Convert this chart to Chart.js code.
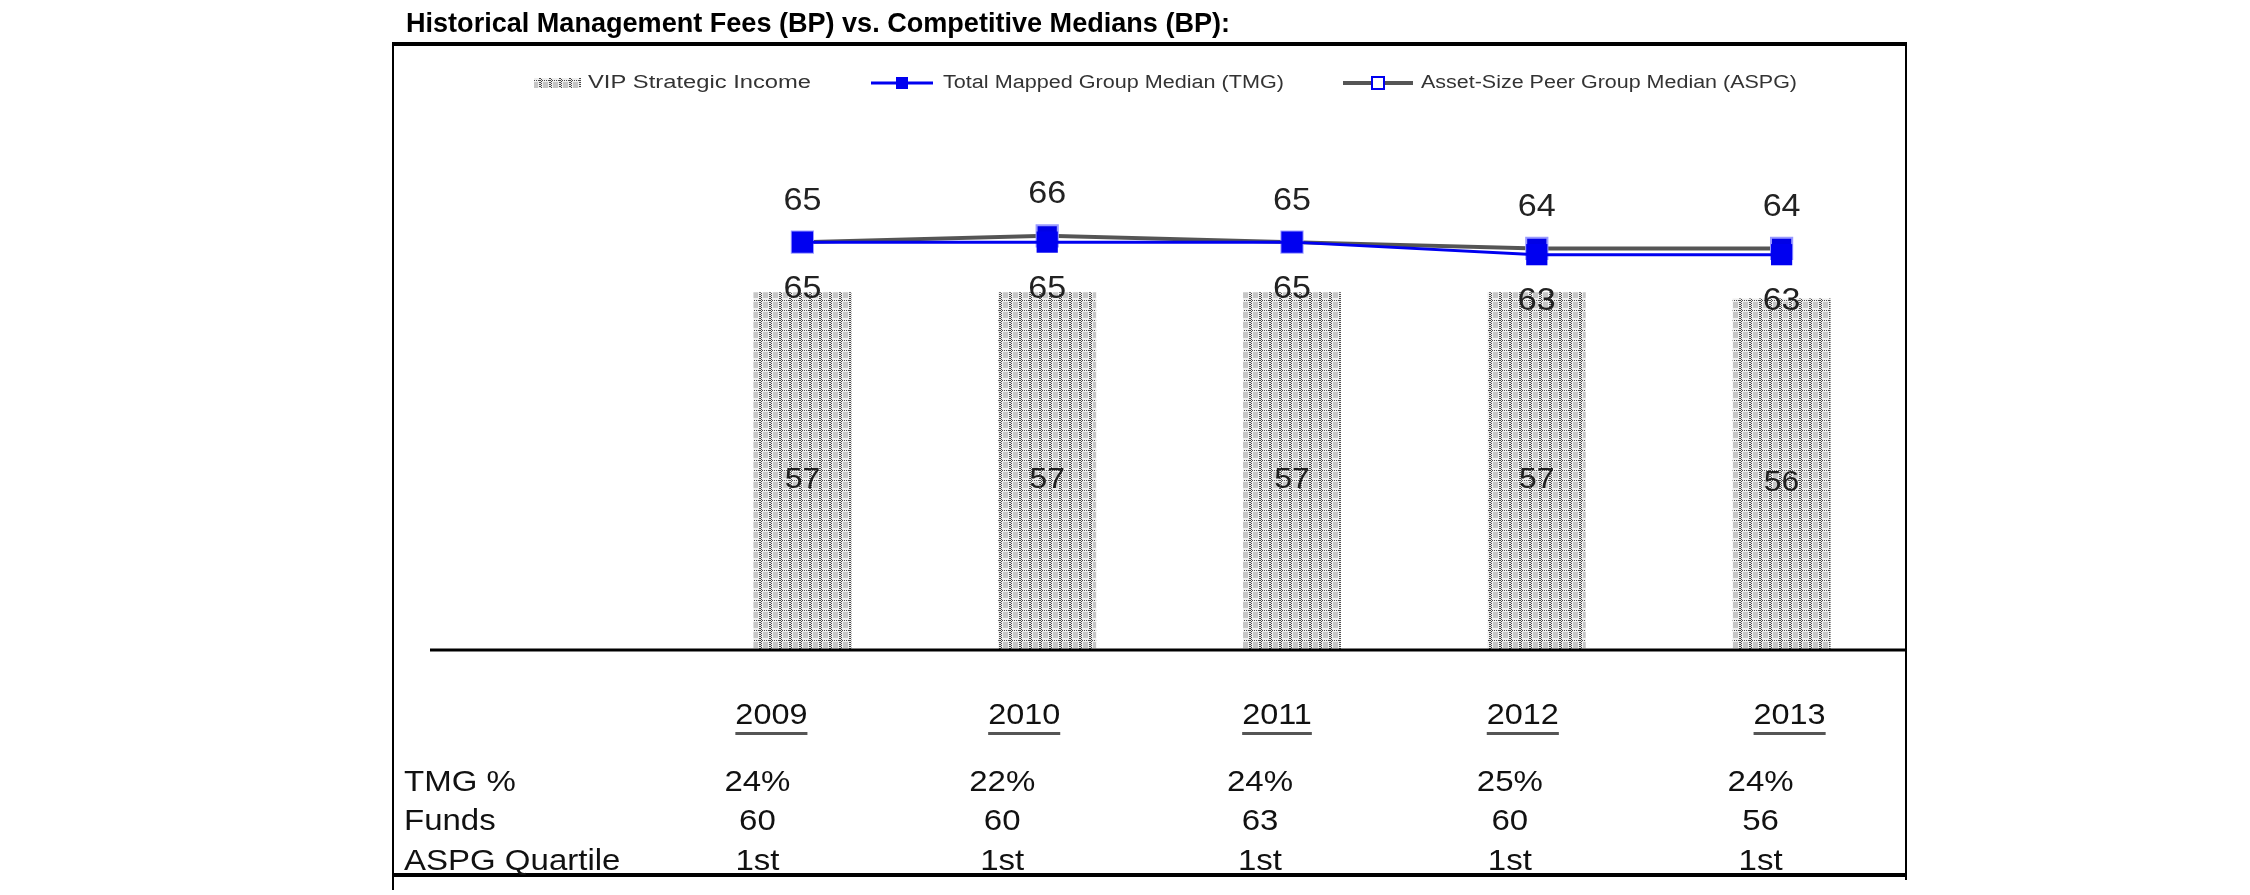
<!DOCTYPE html>
<html>
<head>
<meta charset="utf-8">
<script src="https://cdn.jsdelivr.net/npm/chart.js@4"></script>
<style>
html, body { margin:0; padding:0; background:#fff; }
canvas { display:block; }
</style>
</head>
<body>
<canvas id="feeChart" width="2250" height="895"></canvas>
<script>
/* =========================
   DATA
========================= */

const years = ['2009', '2010', '2011', '2012', '2013'];

const vipFees    = [57, 57, 57, 57, 56];
const tmgMedian  = [65, 65, 65, 63, 63];
const aspgMedian = [65, 66, 65, 64, 64];

const tableRows = ['TMG %', 'Funds', 'ASPG Quartile'];
const tmgPct       = ['24%', '22%', '24%', '25%', '24%'];
const fundCounts   = ['60', '60', '63', '60', '56'];
const aspgQuartile = ['1st', '1st', '1st', '1st', '1st'];

const yMin = 0;
const yMax = 80;

const FONT = '"Liberation Sans", Arial, sans-serif';

// the table below the chart sits on its own grid, a little off the bars
const yearNudge  = [-31, -23, -15, -14, 8];
const valueNudge = [-45, -45, -32, -27, -21];

/* =========================
   HELPERS
========================= */

function makePattern(){

    const c = document.createElement('canvas');
    c.width = 10;
    c.height = 10;
    const g = c.getContext('2d');

    g.fillStyle = '#f0f0f0';
    g.fillRect(0, 0, 10, 10);

    g.fillStyle = '#c6c6c6';
    g.fillRect(3, 2, 5, 6);

    g.fillStyle = '#4a4a4a';
    for (let y = 0; y < 10; y += 2) {
        g.fillRect(0, y, 1, 1);
        g.fillRect(1, y + 1, 1, 1);
        g.fillRect(9, y, 1, 1);
    }
    for (let x = 0; x < 10; x += 2) {
        g.fillRect(x, 0, 1, 1);
    }

    return g.createPattern(c, 'repeat');
}

// text squeezed/stretched to a given width
function fitText(ctx, text, x, y, width){

    const w = ctx.measureText(text).width;
    ctx.save();
    ctx.translate(x, y);
    ctx.scale(width / w, 1);
    ctx.textAlign = 'left';
    ctx.fillText(text, 0, 0);
    ctx.restore();

}

// text with a horizontal stretch factor
function wideText(ctx, text, x, y, sx, align){

    ctx.save();
    ctx.translate(x, y);
    ctx.scale(sx, 1);
    ctx.textAlign = align;
    ctx.fillText(text, 0, 0);
    ctx.restore();

}

const barPattern = makePattern();

/* =========================
   PLUGINS
========================= */

const framePlugin = {
    id: 'frame',
    beforeDraw(chart){
        const ctx = chart.ctx;
        ctx.save();
        ctx.fillStyle = '#fff';
        ctx.fillRect(0, 0, chart.width, chart.height);

        // title
        ctx.fillStyle = '#000';
        ctx.font = 'bold 28px ' + FONT;
        ctx.textBaseline = 'middle';
        fitText(ctx, 'Historical Management Fees (BP) vs. Competitive Medians (BP):', 406, 24, 824);

        // box
        ctx.strokeStyle = '#000';
        ctx.lineWidth = 2;
        ctx.beginPath();
        ctx.moveTo(393, 43);
        ctx.lineTo(393, 890);
        ctx.moveTo(1906, 43);
        ctx.lineTo(1906, 880);
        ctx.stroke();

        ctx.lineWidth = 4;
        ctx.beginPath();
        ctx.moveTo(392, 44);
        ctx.lineTo(1907, 44);
        ctx.moveTo(392, 875);
        ctx.lineTo(1907, 875);
        ctx.stroke();

        // legend
        ctx.font = '18px ' + FONT;
        ctx.textBaseline = 'middle';

        ctx.fillStyle = barPattern;
        ctx.fillRect(534, 78, 47, 10);
        ctx.fillStyle = '#333';
        fitText(ctx, 'VIP Strategic Income', 588, 83, 223);

        ctx.strokeStyle = '#0000f0';
        ctx.lineWidth = 3;
        ctx.beginPath();
        ctx.moveTo(871, 83);
        ctx.lineTo(933, 83);
        ctx.stroke();
        ctx.fillStyle = '#0000f0';
        ctx.fillRect(896, 77, 12, 12);
        ctx.fillStyle = '#333';
        fitText(ctx, 'Total Mapped Group Median (TMG)', 943, 83, 341);

        ctx.strokeStyle = '#555';
        ctx.lineWidth = 4;
        ctx.beginPath();
        ctx.moveTo(1343, 83);
        ctx.lineTo(1413, 83);
        ctx.stroke();
        ctx.fillStyle = '#fff';
        ctx.fillRect(1372, 77, 12, 12);
        ctx.strokeStyle = '#0000f0';
        ctx.lineWidth = 2;
        ctx.strokeRect(1372, 77, 12, 12);
        ctx.fillStyle = '#333';
        fitText(ctx, 'Asset-Size Peer Group Median (ASPG)', 1421, 83, 376);

        ctx.restore();
    }
};

const labelPlugin = {
    id: 'valueLabels',
    afterDatasetsDraw(chart){
        const ctx = chart.ctx;
        const y = chart.scales.y;

        ctx.save();

        // axis line across the whole frame
        ctx.strokeStyle = '#000';
        ctx.lineWidth = 3;
        ctx.beginPath();
        ctx.moveTo(430, y.getPixelForValue(0));
        ctx.lineTo(1906, y.getPixelForValue(0));
        ctx.stroke();

        ctx.textBaseline = 'middle';
        ctx.fillStyle = '#222';
        ctx.font = '31px ' + FONT;

        chart.getDatasetMeta(1).data.forEach(function(pt, i){
            wideText(ctx, String(aspgMedian[i]), pt.x, pt.y - 41, 1.1, 'center');
        });

        chart.getDatasetMeta(0).data.forEach(function(pt, i){
            wideText(ctx, String(tmgMedian[i]), pt.x, pt.y + 47, 1.1, 'center');
        });

        ctx.font = '29px ' + FONT;
        chart.getDatasetMeta(2).data.forEach(function(bar, i){
            wideText(ctx, String(vipFees[i]), bar.x, (bar.y + bar.base) / 2 + 9, 1.1, 'center');
        });

        ctx.restore();
    }
};

const tablePlugin = {
    id: 'table',
    afterDraw(chart){
        const ctx = chart.ctx;
        const x = chart.scales.x;
        const sx = 1.1;

        ctx.save();
        ctx.textBaseline = 'middle';
        ctx.fillStyle = '#111';

        // year labels, underlined
        ctx.font = '30px ' + FONT;
        years.forEach(function(yr, i){
            const cx = x.getPixelForValue(i) + yearNudge[i];
            wideText(ctx, yr, cx, 716, 1.08, 'center');
            const w = ctx.measureText(yr).width * 1.08;
            ctx.fillStyle = '#555';
            ctx.fillRect(cx - w / 2, 732, w, 3);
            ctx.fillStyle = '#111';
        });

        // table rows
        const rowY = [783, 822, 862];
        const rowVals = [tmgPct, fundCounts, aspgQuartile];

        ctx.font = '30px ' + FONT;
        tableRows.forEach(function(label, r){
            wideText(ctx, label, 404, rowY[r], sx, 'left');

            rowVals[r].forEach(function(v, i){
                wideText(ctx, v, x.getPixelForValue(i) + valueNudge[i], rowY[r], sx, 'center');
            });
        });

        ctx.restore();
    }
};

/* =========================
   CHART
========================= */

new Chart(document.getElementById('feeChart'), {
    type: 'bar',

    data: {
        labels: years,

        datasets: [{
            type: 'line',
            label: 'Total Mapped Group Median (TMG)',
            data: tmgMedian,
            order: 1,
            borderColor: '#0000f0',
            borderWidth: 3,
            tension: 0,
            pointStyle: 'rect',
            pointRadius: 15,
            pointBackgroundColor: '#0000f0',
            pointBorderColor: '#0000f0',
            pointBorderWidth: 0
        }, {
            type: 'line',
            label: 'Asset-Size Peer Group Median (ASPG)',
            data: aspgMedian,
            order: 2,
            borderColor: '#555',
            borderWidth: 4,
            tension: 0,
            pointStyle: 'rect',
            pointRadius: 15,
            pointBackgroundColor: '#0000e6',
            pointBorderColor: '#9a9aff',
            pointBorderWidth: 2
        }, {
            type: 'bar',
            label: 'VIP Strategic Income',
            data: vipFees,
            order: 3,
            backgroundColor: barPattern,
            barPercentage: 0.4,
            categoryPercentage: 1
        }]
    },

    options: {
        responsive: false,
        animation: false,
        devicePixelRatio: 1,

        layout: {
            padding: { left: 680, right: 346, top: 148, bottom: 245 }
        },

        plugins: {
            legend: { display: false },
            tooltip: { enabled: false }
        },

        scales: {
            x: { display: false, offset: true },
            y: { display: false, min: yMin, max: yMax }
        }
    },

    plugins: [framePlugin, labelPlugin, tablePlugin]
});
</script>
</body>
</html>
